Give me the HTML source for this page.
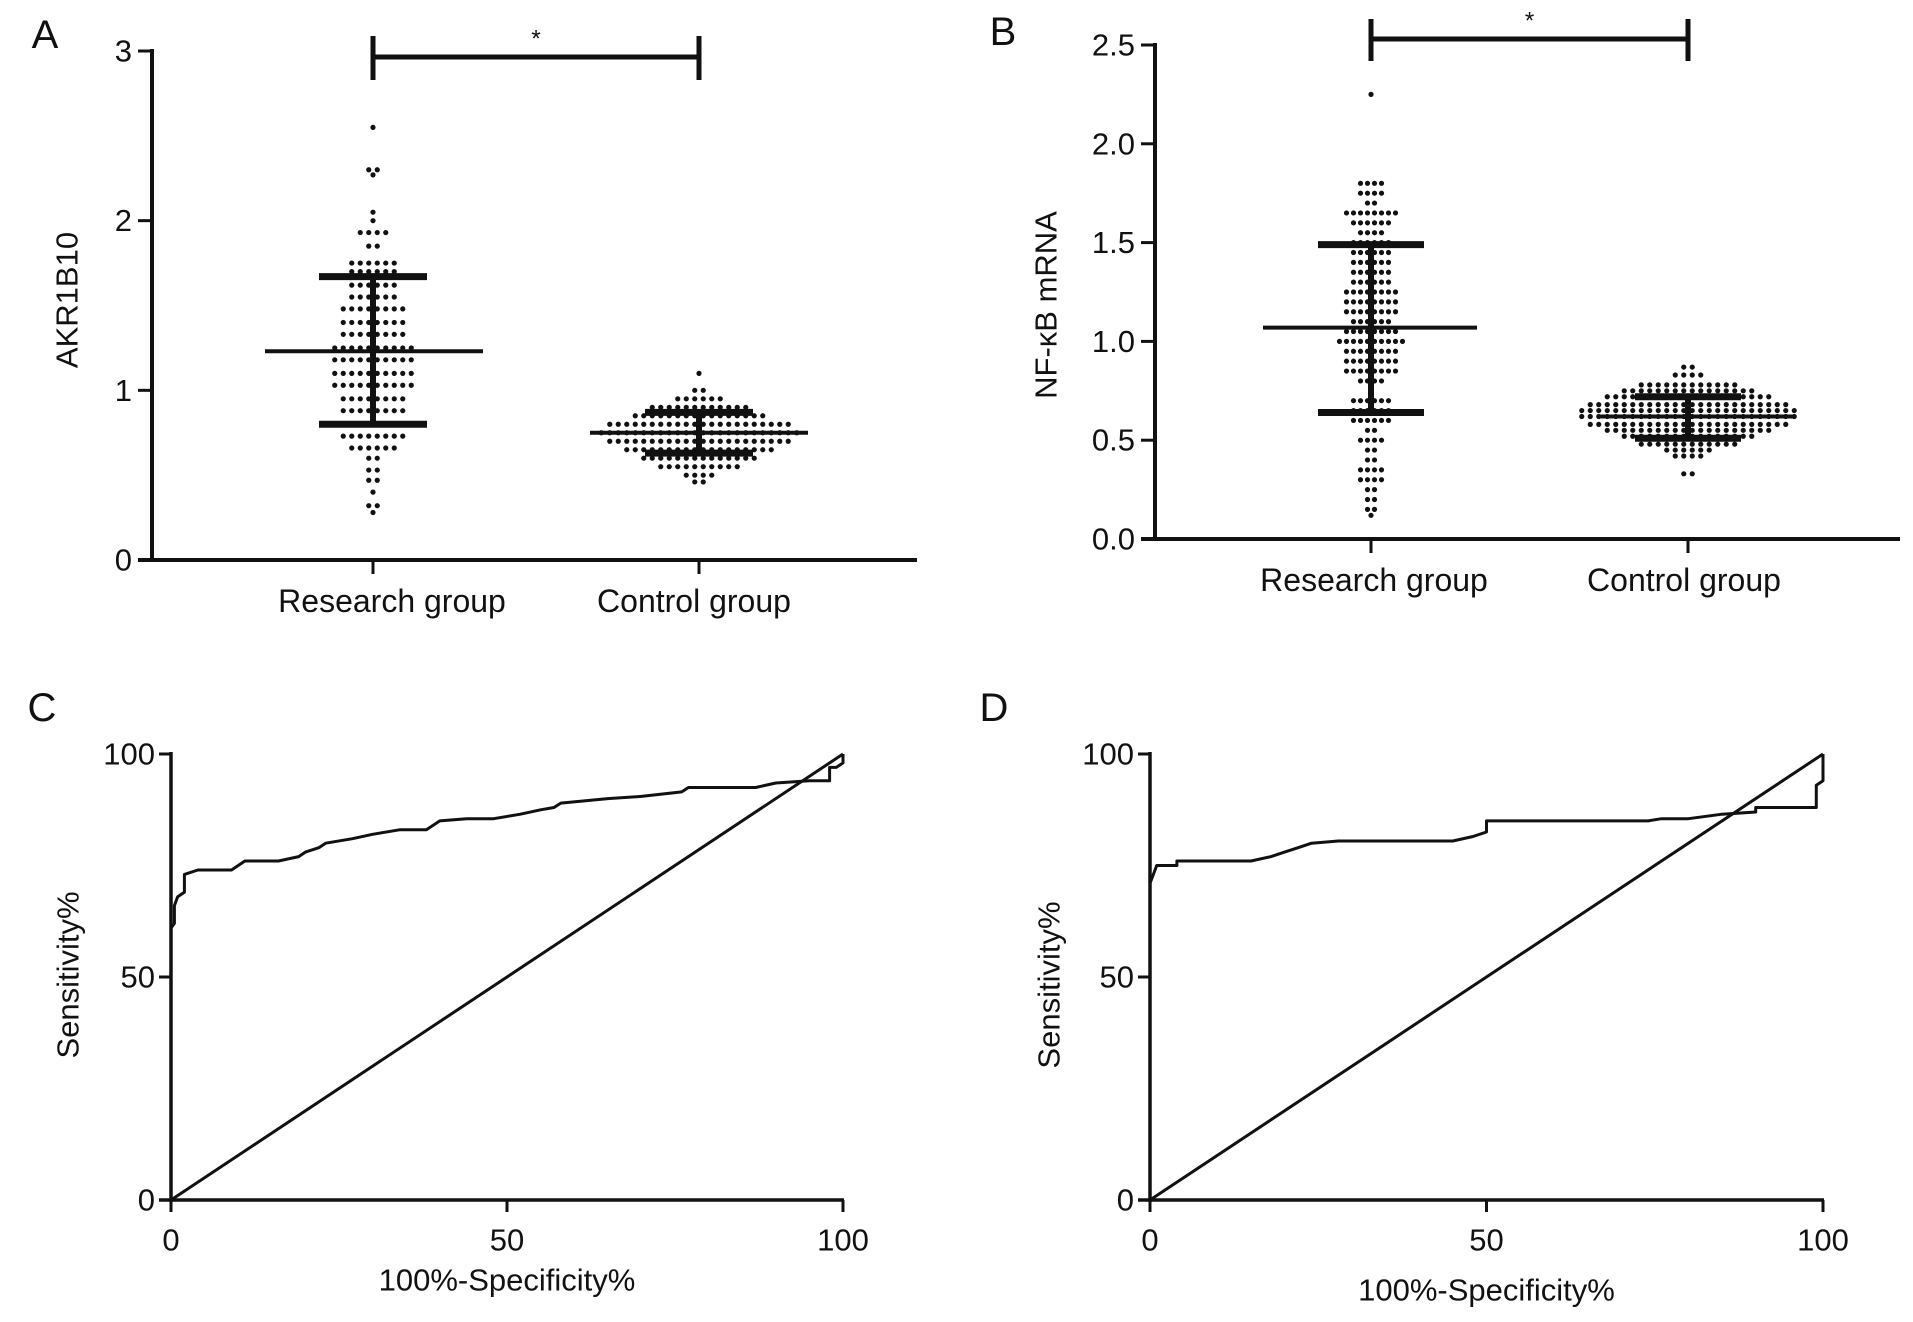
<!DOCTYPE html>
<html><head><meta charset="utf-8"><style>
html,body{margin:0;padding:0;background:#fff;}
svg{display:block;font-family:"Liberation Sans",Arial,sans-serif;}
</style></head><body>
<svg id="fig" width="1913" height="1322" viewBox="0 0 1913 1322">
</svg>
<script>
// ---- Panel A data ----
const aResLevels=[2.55,2.3,2.27,2.05,2.0,1.93,1.85,1.75,1.70,1.62,1.55,1.48,1.40,1.33,1.25,1.18,1.10,1.03,0.95,0.88,0.80,0.73,0.66,0.60,0.53,0.47,0.40,0.32,0.28];
const aResCounts=[1,2,1,1,1,4,2,6,6,6,6,8,8,8,10,10,10,10,8,8,10,8,6,2,2,2,1,2,1];
const aCtlLevels=[1.1,1.0,0.95,0.9,0.85,0.8,0.75,0.7,0.65,0.6,0.55,0.5,0.46];
const aCtlCounts=[1,2,6,12,16,22,24,22,18,14,10,4,2];
const aMeans=[1.23,0.75];
const aSDhi=[1.67,0.87];
const aSDlo=[0.80,0.63];
const aTicks=[0,1,2,3];
// ---- Panel B data ----
const bResLevels=[2.25,1.8,1.75,1.7,1.65,1.6,1.55,1.5,1.45,1.4,1.35,1.3,1.25,1.2,1.15,1.1,1.05,1.0,0.95,0.9,0.85,0.8,0.7,0.65,0.6,0.55,0.5,0.45,0.4,0.35,0.3,0.25,0.2,0.15,0.12];
const bResCounts=[1,4,4,2,8,6,4,6,6,6,6,6,8,8,8,6,8,10,8,8,8,4,6,6,6,2,4,2,2,4,4,2,2,2,1];
const bCtlLevels=[0.87,0.83,0.78,0.75,0.72,0.68,0.65,0.62,0.58,0.55,0.52,0.48,0.45,0.42,0.33];
const bCtlCounts=[2,4,12,16,20,24,26,26,24,20,16,12,6,4,2];
const bMeans=[1.07,0.62];
const bSDhi=[1.49,0.72];
const bSDlo=[0.64,0.51];
const bTicks=["0.0","0.5","1.0","1.5","2.0","2.5"];
const groups=["Research group","Control group"];
// ---- ROC data ----
const cFpr=[0,0,0.5,0.5,1,2,2,4,9,11,16,19,20,22,23,27,30,34,38,40,44,48,52,55,57,58,65,70,76,77,87,90,95,98,98,99,100,100];
const cTpr=[0,61,62,66,68,69,73,74,74,76,76,77,78,79,80,81,82,83,83,85,85.5,85.5,86.5,87.5,88,89,90,90.5,91.5,92.5,92.5,93.5,94,94,97,97,98,100];
const dFpr=[0,0,0.5,1,4,4,15,18,20,22,24,28,45,48,50,50,74,76,80,85,90,90,99,99,100,100];
const dTpr=[0,71,73,75,75,76,76,77,78,79,80,80.5,80.5,81.5,82.5,85,85,85.5,85.5,86.5,87,88,88,93,94,100];
const rocTicks=[0,50,100];

const NS="http://www.w3.org/2000/svg";
const svg=document.getElementById('fig');
function mk(tag,attrs,parent){const e=document.createElementNS(NS,tag);for(const k in attrs)e.setAttribute(k,attrs[k]);(parent||svg).appendChild(e);return e;}
function txt(s,x,y,size,parent,anchor,rot){const t=mk('text',{x:x,y:y,'font-size':size,'text-anchor':anchor||'middle','dominant-baseline':'central',fill:'#111'},parent);if(rot)t.setAttribute('transform','rotate(-90 '+x+' '+y+')');t.textContent=s;return t;}

function scatterPanel(cfg){
  const g=mk('g',{});
  
  
  const ys=v=>cfg.y0+(cfg.yTop-cfg.y0)*v/cfg.vmax;
  const L=txt(cfg.letter,cfg.letterX,cfg.letterY,40,g);
  
  const ya=mk('line',{x1:cfg.ax,y1:cfg.yTop-2,x2:cfg.ax,y2:cfg.y0+2,stroke:'#111','stroke-width':4},g);
  
  const xa=mk('line',{x1:cfg.ax-14,y1:cfg.y0,x2:cfg.xEnd,y2:cfg.y0,stroke:'#111','stroke-width':4},g);
  
  cfg.ticks.forEach(t=>{const v=parseFloat(t);const y=ys(v);
    mk('line',{x1:cfg.ax-14,y1:y,x2:cfg.ax,y2:y,stroke:'#111','stroke-width':3},g);
    const tl=txt(String(t),cfg.ax-20,y,31,g,'end');});
  const yt=txt(cfg.ytitle,cfg.ytX,cfg.ytY,31,g,'middle',true);
  
  [cfg.xR,cfg.xC].forEach((gx,i)=>{
    mk('line',{x1:gx,y1:cfg.y0,x2:gx,y2:cfg.y0+14,stroke:'#111','stroke-width':3},g);
    const xl=txt(groups[i],gx+cfg.labOff[i],cfg.labY,32,g);
    
  });
  const sets=[[cfg.resL,cfg.resC,cfg.xR],[cfg.ctlL,cfg.ctlC,cfg.xC]];
  sets.forEach((s,si)=>{
    s[0].forEach((lv,i)=>{const n=s[1][i];const y=ys(lv);
      for(let k=0;k<n;k++){const off=(k-(n-1)/2)*cfg.sp[si];
        const d=mk('circle',{cx:s[2]+off,cy:y,r:2.6,fill:'#111'},g);
        
        }
    });
  });
  [cfg.xR,cfg.xC].forEach((gx,i)=>{
    const v=mk('line',{x1:gx,y1:ys(cfg.hi[i]),x2:gx,y2:ys(cfg.lo[i]),stroke:'#111','stroke-width':6},g);
    
    [cfg.hi[i],cfg.lo[i]].forEach(val=>{
      const c=mk('line',{x1:gx-cfg.capW[i],y1:ys(val),x2:gx+cfg.capW[i],y2:ys(val),stroke:'#111','stroke-width':7},g);
      });
    const m=mk('line',{x1:gx-cfg.meanW[i]+cfg.meanOff[i],y1:ys(cfg.mean[i]),x2:gx+cfg.meanW[i]+cfg.meanOff[i],y2:ys(cfg.mean[i]),stroke:'#111','stroke-width':4},g);
    
  });
  const sb=mk('path',{d:`M${cfg.xR},${cfg.sigTop} V${cfg.sigBot} M${cfg.xR},${cfg.sigY} H${cfg.xC} M${cfg.xC},${cfg.sigTop} V${cfg.sigBot}`,stroke:'#111','stroke-width':5,fill:'none'},g);
  
  const st=txt('*',(cfg.xR+cfg.xC)/2,cfg.sigY-18,24,g);
  
}

scatterPanel({name:'panel-a',letter:'A',letterX:45,letterY:35,ax:152,y0:560,yTop:51,vmax:3,xEnd:917,ticks:aTicks,
  ytitle:'AKR1B10',ytX:67,ytY:300,xR:373,xC:699,labY:601,labOff:[19,-5],sp:[8.5,8.5],
  resL:aResLevels,resC:aResCounts,ctlL:aCtlLevels,ctlC:aCtlCounts,mean:aMeans,hi:aSDhi,lo:aSDlo,
  capW:[54,54],meanW:[109,109],meanOff:[1,0],sigY:57,sigTop:36,sigBot:80});
scatterPanel({name:'panel-b',letter:'B',letterX:1003,letterY:32,ax:1155,y0:539,yTop:45,vmax:2.5,xEnd:1900,ticks:bTicks,
  ytitle:'NF-κB mRNA',ytX:1046,ytY:305,xR:1371,xC:1688,labY:580,labOff:[3,-4],sp:[7,8.5],
  resL:bResLevels,resC:bResCounts,ctlL:bCtlLevels,ctlC:bCtlCounts,mean:bMeans,hi:bSDhi,lo:bSDlo,
  capW:[53,53],meanW:[107,98],meanOff:[-1,7],sigY:39,sigTop:19,sigBot:61});

function rocPanel(cfg){
  const g=mk('g',{});
  
  
  const xs=v=>cfg.x0+(cfg.x1-cfg.x0)*v/100;
  const ys=v=>cfg.y0+(cfg.y1-cfg.y0)*v/100;
  const L=txt(cfg.letter,cfg.letterX,cfg.letterY,40,g);
  
  const ya=mk('line',{x1:cfg.x0,y1:cfg.y1-2,x2:cfg.x0,y2:cfg.y0+2,stroke:'#111','stroke-width':3.5},g);
  
  const xa=mk('line',{x1:cfg.x0-12,y1:cfg.y0,x2:cfg.x1+1,y2:cfg.y0,stroke:'#111','stroke-width':3.5},g);
  
  rocTicks.forEach(t=>{
    mk('line',{x1:cfg.x0-12,y1:ys(t),x2:cfg.x0,y2:ys(t),stroke:'#111','stroke-width':3},g);
    const yl=txt(String(t),cfg.x0-16,ys(t),31,g,'end');
    mk('line',{x1:xs(t),y1:cfg.y0,x2:xs(t),y2:cfg.y0+12,stroke:'#111','stroke-width':3},g);
    const xl=txt(String(t),xs(t),1240,31,g);
  });
  const yt=txt('Sensitivity%',cfg.ytX,cfg.ytY,31,g,'middle',true);
  
  const xt=txt('100%-Specificity%',(cfg.x0+cfg.x1)/2,cfg.xtY,31,g);
  
  const ref=mk('line',{x1:xs(0),y1:ys(0),x2:xs(100),y2:ys(100),stroke:'#111','stroke-width':3},g);
  
  let d='';cfg.fx.forEach((v,i)=>{d+=(i?'L':'M')+xs(v).toFixed(1)+','+ys(cfg.ty[i]).toFixed(1)+' ';});
  const c=mk('path',{d:d,stroke:'#111','stroke-width':3,fill:'none','stroke-linejoin':'round'},g);
  
}
rocPanel({name:'panel-c',letter:'C',letterX:42,letterY:708,x0:171,x1:843,y0:1200,y1:754,ytX:68,ytY:975,xtY:1280,fx:cFpr,ty:cTpr});
rocPanel({name:'panel-d',letter:'D',letterX:994,letterY:708,x0:1150,x1:1823,y0:1200,y1:754,ytX:1049,ytY:985,xtY:1290,fx:dFpr,ty:dTpr});
</script>
</body></html>
